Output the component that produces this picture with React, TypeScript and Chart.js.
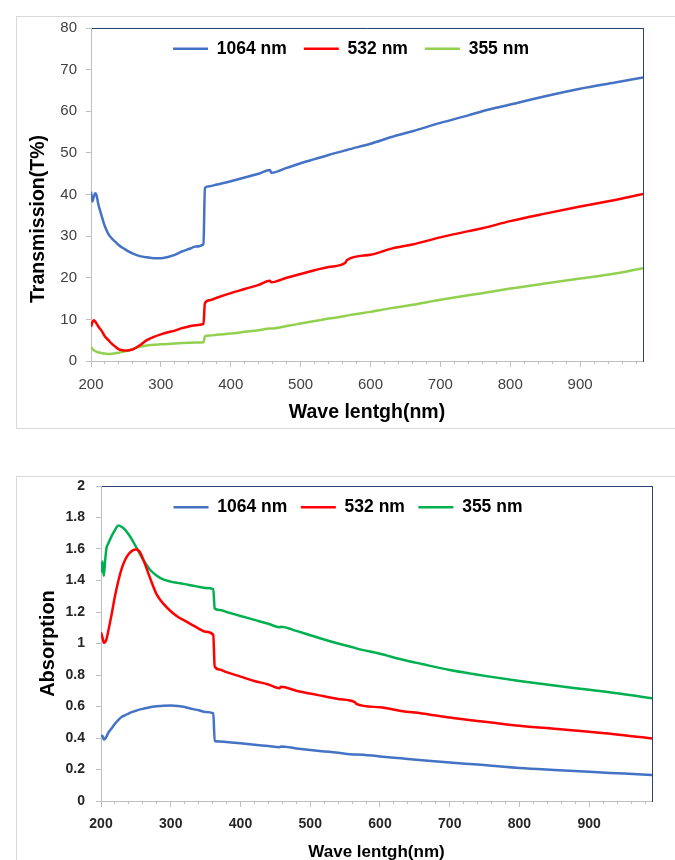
import React, { useEffect, useRef } from 'react';
import { Chart, registerables } from 'chart.js';

Chart.register(...registerables);

// Wavelength grid (nm)
const wavelengths = [
  200, 202, 204, 206, 208, 210, 215, 220, 225, 230, 235, 240, 245, 250, 255, 260,
  270, 280, 290, 300, 310, 320, 330, 340, 350, 361, 363, 370, 380, 400, 420, 440,
  456, 458, 480, 500, 520, 540, 564, 566, 600, 630, 660, 700, 740, 760, 800, 850,
  900, 950, 990,
];

// Transmission (T%)
const trans1064 = [
  40.7, 38.3, 39.5, 40.3, 39.8, 38.0, 35.0, 32.3, 30.5, 29.4, 28.6, 27.8, 27.2, 26.7, 26.2, 25.8,
  25.2, 24.9, 24.7, 24.7, 25.0, 25.5, 26.3, 26.9, 27.5, 28.1, 41.6, 42.0, 42.4, 43.2, 44.1, 45.0,
  45.9, 45.2, 46.4, 47.5, 48.5, 49.5, 50.6, 50.7, 52.2, 53.8, 55.2, 57.2, 59.0, 60.0, 61.6, 63.6,
  65.4, 66.9, 68.1,
];
const trans532 = [
  8.2, 9.3, 9.8, 9.5, 9.0, 8.4, 7.3, 5.9, 5.0, 4.1, 3.4, 2.8, 2.6, 2.5, 2.6, 2.8,
  3.8, 5.0, 5.8, 6.4, 6.9, 7.3, 7.9, 8.3, 8.6, 8.9, 13.9, 14.6, 15.2, 16.3, 17.3, 18.3,
  19.3, 18.9, 20.0, 20.9, 21.8, 22.6, 23.6, 24.2, 25.5, 27.0, 28.0, 29.7, 31.2, 31.9, 33.6, 35.4,
  37.1, 38.7, 40.1,
];
const trans355 = [
  3.4, 2.9, 2.6, 2.4, 2.2, 2.1, 1.9, 1.8, 1.7, 1.75, 1.85, 2.0, 2.2, 2.4, 2.6, 2.9,
  3.4, 3.7, 3.9, 4.0, 4.1, 4.2, 4.3, 4.4, 4.45, 4.5, 5.9, 6.1, 6.3, 6.6, 7.0, 7.4,
  7.8, 7.8, 8.4, 9.0, 9.6, 10.2, 10.8, 10.9, 11.8, 12.7, 13.5, 14.7, 15.8, 16.3, 17.4, 18.6,
  19.8, 21.0, 22.3,
];

// Absorption
const abs1064 = [
  0.41, 0.415, 0.39, 0.395, 0.41, 0.43, 0.46, 0.49, 0.515, 0.535, 0.545, 0.557, 0.566, 0.573, 0.58, 0.585,
  0.595, 0.601, 0.605, 0.606, 0.603, 0.597, 0.585, 0.576, 0.565, 0.556, 0.381, 0.378, 0.374, 0.366, 0.357, 0.349,
  0.342, 0.346, 0.334, 0.324, 0.315, 0.306, 0.296, 0.296, 0.283, 0.271, 0.259, 0.244, 0.231, 0.224, 0.21, 0.197,
  0.185, 0.174, 0.165,
];
const abs532 = [
  1.07, 1.04, 1.005, 1.01, 1.03, 1.07, 1.18, 1.3, 1.4, 1.48, 1.535, 1.57, 1.59, 1.597, 1.585, 1.54,
  1.42, 1.31, 1.25, 1.205, 1.17, 1.145, 1.12, 1.095, 1.075, 1.055, 0.855, 0.835, 0.818, 0.79, 0.762, 0.74,
  0.716, 0.725, 0.7, 0.682, 0.665, 0.648, 0.628, 0.617, 0.595, 0.572, 0.556, 0.53, 0.508, 0.498, 0.478, 0.459,
  0.44, 0.418, 0.397,
];
const abs355 = [
  1.45, 1.52, 1.43, 1.53, 1.61, 1.63, 1.68, 1.72, 1.75, 1.74, 1.72, 1.69, 1.655, 1.615, 1.575, 1.535,
  1.47, 1.43, 1.405, 1.393, 1.385, 1.377, 1.368, 1.36, 1.352, 1.345, 1.222, 1.213, 1.2, 1.175, 1.15, 1.125,
  1.103, 1.106, 1.08, 1.052, 1.025, 1.0, 0.972, 0.969, 0.935, 0.9, 0.87, 0.832, 0.802, 0.788, 0.762, 0.733,
  0.706, 0.678, 0.652,
];

const seriesLabels = ['1064 nm', '532 nm', '355 nm'];

// Axis ticks
const xMajorTicks = [200, 300, 400, 500, 600, 700, 800, 900];
const X_MINOR_STEP = 20;
const X_MIN = 200;
const X_MAX = 990;

const FONT = "'Liberation Sans', Arial, sans-serif";
const AXIS_GRAY = '#bfbfbf';
const NAVY = '#2a4274';

type Cfg = {
  values: number[][];
  colors: string[];
  yMin: number;
  yMax: number;
  yStep: number;
  yTitle: string;
  yTitleSize: number;
  yTitlePad: number;
  yTitleShift: number;
  padLeft: number;
  yAxisWidth: number;
  yTickPad: number;
  tickSize: number;
  tickBold: boolean;
  tickColor: string;
  xTickPad: number;
  xTitleSize: number;
  xTitlePadBottom: number;
  legendTop: number;
  plotTop: number;
  padRight: number;
  xAxisHeight: number;
  legendPad: number;
};

function minorTicks() {
  const out: { value: number }[] = [];
  for (let v = X_MIN; v < X_MAX; v += X_MINOR_STEP) out.push({ value: v });
  return out;
}

// The legend takes (almost) no layout room so that it sits inside the plot,
// as in the reference; its clip box is enlarged after layout so it can draw.
// The y-axis title can also be nudged down (the reference title is off-centre).
function makeLayoutPlugin(yTitleShift: number) {
  return {
    id: 'legendInPlot',
    afterLayout(chart: any) {
      const lg = chart.legend;
      if (lg) {
        lg.bottom = lg.top + 45;
        lg.height = 45;
      }
      const ys = chart.scales && chart.scales.y;
      if (ys && yTitleShift && !ys.__titleWrapped) {
        const orig = ys.drawTitle;
        ys.drawTitle = function (...args: any[]) {
          this.top += yTitleShift;
          this.bottom += yTitleShift;
          try {
            orig.apply(this, args);
          } finally {
            this.top -= yTitleShift;
            this.bottom -= yTitleShift;
          }
        };
        ys.__titleWrapped = true;
      }
    },
  };
}

function buildConfig(c: Cfg): any {
  const tickFont = { family: FONT, size: c.tickSize, weight: c.tickBold ? 'bold' : 'normal' };
  return {
    type: 'line',
    data: {
      datasets: c.values.map((vals, i) => ({
        label: seriesLabels[i],
        data: wavelengths.map((x, j) => ({ x, y: vals[j] })),
        borderColor: c.colors[i],
        backgroundColor: c.colors[i],
        borderWidth: 2.5,
        pointRadius: 0,
        cubicInterpolationMode: 'monotone',
        xAxisID: 'x',
        yAxisID: 'y',
      })),
    },
    plugins: [makeLayoutPlugin(c.yTitleShift)],
    options: {
      responsive: false,
      animation: false,
      layout: { padding: { left: c.padLeft, right: c.padRight, top: c.legendTop, bottom: 0 } },
      plugins: {
        tooltip: { enabled: false },
        legend: {
          position: 'top',
          align: 'center',
          fullSize: true,
          maxHeight: c.plotTop - c.legendTop,
          labels: {
            usePointStyle: true,
            pointStyle: 'line',
            pointStyleWidth: 35,
            padding: c.legendPad,
            color: '#000',
            font: { family: FONT, size: 17.5, weight: 'bold' },
          },
        },
      },
      scales: {
        x: {
          type: 'linear',
          position: 'bottom',
          weight: 1,
          min: X_MIN,
          max: X_MAX,
          afterBuildTicks: (s: any) => { s.ticks = xMajorTicks.map((v) => ({ value: v })); },
          ticks: { padding: c.xTickPad, color: c.tickColor, font: tickFont, maxRotation: 0, autoSkip: false },
          grid: { drawOnChartArea: false, drawTicks: true, tickLength: 6, color: AXIS_GRAY },
          border: { color: AXIS_GRAY, width: 1 },
          title: {
            display: true,
            text: 'Wave lentgh(nm)',
            color: '#000',
            font: { family: FONT, size: c.xTitleSize, weight: 'bold' },
            padding: { top: 0, bottom: c.xTitlePadBottom },
          },
          afterFit: (s: any) => { s.height = c.xAxisHeight; },
        },
        xMinor: {
          type: 'linear',
          position: 'bottom',
          weight: 0,
          min: X_MIN,
          max: X_MAX,
          afterBuildTicks: (s: any) => { s.ticks = minorTicks(); },
          ticks: { display: true, autoSkip: false, callback: () => '', font: { size: 1 }, padding: 0 },
          grid: { drawOnChartArea: false, drawTicks: true, tickLength: 3, color: AXIS_GRAY },
          border: { display: false },
          afterFit: (s: any) => { s.height = 0; },
        },
        xTop: {
          type: 'linear',
          position: 'top',
          min: X_MIN,
          max: X_MAX,
          ticks: { display: false },
          grid: { drawOnChartArea: false, drawTicks: false },
          border: { color: NAVY, width: 1 },
          afterFit: (s: any) => { s.height = 0; },
        },
        y: {
          type: 'linear',
          position: 'left',
          min: c.yMin,
          max: c.yMax,
          ticks: {
            stepSize: c.yStep,
            padding: c.yTickPad,
            color: c.tickColor,
            font: tickFont,
            callback: (v: number) => String(Number(Number(v).toFixed(1))),
          },
          grid: { drawOnChartArea: false, drawTicks: true, tickLength: 5, color: AXIS_GRAY },
          border: { color: AXIS_GRAY, width: 1 },
          title: {
            display: true,
            text: c.yTitle,
            color: '#000',
            font: { family: FONT, size: c.yTitleSize, weight: 'bold' },
            padding: { top: c.yTitlePad, bottom: 0 },
          },
          afterFit: (s: any) => { s.width = c.yAxisWidth; },
        },
        yRight: {
          type: 'linear',
          position: 'right',
          min: c.yMin,
          max: c.yMax,
          ticks: { display: false },
          grid: { drawOnChartArea: false, drawTicks: false },
          border: { color: NAVY, width: 1 },
          afterFit: (s: any) => { s.width = 0; },
        },
      },
    },
  };
}

// top: plot area x 91..643, y 28..361 ; legend centered near x=351
const topCfg: Cfg = {
  values: [trans1064, trans532, trans355],
  colors: ['#4472C4', '#FF0000', '#92D050'],
  yMin: 0,
  yMax: 80,
  yStep: 10,
  yTitle: 'Transmission(T%)',
  yTitleSize: 19.5,
  yTitlePad: -31.7,
  yTitleShift: 24.5,
  padLeft: 59,
  yAxisWidth: 32,
  yTickPad: 9,
  tickSize: 15,
  tickBold: false,
  tickColor: '#404040',
  xTickPad: 9,
  xTitleSize: 19.5,
  xTitlePadBottom: 6,
  legendTop: 23,
  plotTop: 28,
  padRight: 32,
  xAxisHeight: 69,
  legendPad: 17,
};

// bottom: plot area x 101..652, y 56..371 (canvas coords); legend centered near x=348
const bottomCfg: Cfg = {
  values: [abs1064, abs532, abs355],
  colors: ['#4472C4', '#FF0000', '#00B050'],
  yMin: 0,
  yMax: 2,
  yStep: 0.2,
  yTitle: 'Absorption',
  yTitleSize: 20,
  yTitlePad: -7.5,
  yTitleShift: 0,
  padLeft: 44,
  yAxisWidth: 57,
  yTickPad: 11,
  tickSize: 14,
  tickBold: true,
  tickColor: '#262626',
  xTickPad: 9,
  xTitleSize: 17,
  xTitlePadBottom: 7,
  legendTop: 55,
  plotTop: 56,
  padRight: 23,
  xAxisHeight: 69,
  legendPad: 13.5,
};

function ChartBox({ cfg, top, height }: { cfg: Cfg; top: number; height: number }) {
  const ref = useRef<HTMLCanvasElement | null>(null);
  useEffect(() => {
    if (!ref.current) return;
    const chart = new Chart(ref.current, buildConfig(cfg));
    return () => chart.destroy();
  }, [cfg]);
  return (
    <canvas
      ref={ref}
      width={675}
      height={height}
      style={{ position: 'absolute', left: 0, top, width: 675, height }}
    />
  );
}

export default function App() {
  return (
    <div
      style={{
        position: 'absolute',
        left: 0,
        top: 0,
        width: 675,
        height: 860,
        overflow: 'hidden',
        background: '#fff',
      }}
    >
      <div
        style={{
          position: 'absolute',
          left: 16,
          top: 16,
          width: 700,
          height: 411,
          border: '1px solid #d9d9d9',
        }}
      />
      <div
        style={{
          position: 'absolute',
          left: 16,
          top: 476,
          width: 700,
          height: 500,
          border: '1px solid #d9d9d9',
        }}
      />
      <ChartBox cfg={topCfg} top={0} height={430} />
      <ChartBox cfg={bottomCfg} top={430} height={440} />
    </div>
  );
}
